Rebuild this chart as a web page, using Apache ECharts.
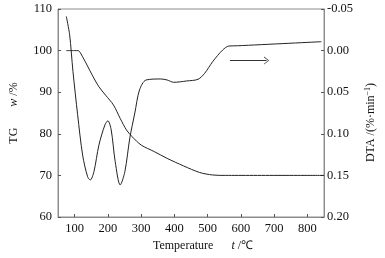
<!DOCTYPE html>
<html><head><meta charset="utf-8">
<script src="https://cdn.jsdelivr.net/npm/echarts@6/dist/echarts.min.js"></script>
<style>html,body{margin:0;padding:0;background:#fff}#c{width:385px;height:258px}</style>
</head><body><div id="c"></div>
<script>
// TG curve (left axis, w / %)
const tgTemp = [75, 100, 110, 124, 153, 173, 193, 217, 237, 256, 273, 300, 340, 378, 427, 476, 515, 554, 850];
const tgMass = [100, 100, 100, 98.5, 94.1, 91.3, 89.3, 86.9, 83.7, 80.9, 79.3, 77.3, 75.7, 74.1, 72.3, 70.7, 70.1, 70, 70];
// DTA curve (right axis, %/min, inverted)
const dtaTemp = [75, 85, 95, 109, 124, 139, 147, 158, 173, 191, 200, 210, 222, 237, 251, 266, 281, 295, 315, 359, 378, 398, 437, 471, 491, 515, 545, 564, 590, 842];
const dtaVal = [-0.041, -0.019, 0.025, 0.077, 0.1255, 0.1516, 0.1555, 0.1456, 0.1135, 0.0894, 0.0843, 0.0954, 0.1335, 0.1615, 0.1456, 0.105, 0.075, 0.0474, 0.0353, 0.0341, 0.0353, 0.0381, 0.0365, 0.0345, 0.0273, 0.0133, -0.0007, -0.0055, -0.0058, -0.0107];
// ticks
const xTicks = [100, 200, 300, 400, 500, 600, 700, 800];
const arrowFrom = [567, 0.012];
const arrowTo = [677, 0.012];

const F = 'Liberation Serif, Times New Roman, serif';
const TS = 12.5;
const chart = echarts.init(document.getElementById('c'));
chart.setOption({
  animation: false,
  textStyle: {fontFamily: F},
  grid: {left: 53, right: 59, top: 9, bottom: 41, show: true, borderColor: '#8c8c8c', borderWidth: 1},
  xAxis: {
    type: 'value', min: 50, max: 850,
    axisLine: {show: true, onZero: false, lineStyle: {color: '#8c8c8c'}},
    axisTick: {show: true, inside: true, length: 3, customValues: xTicks, lineStyle: {color: '#555'}},
    axisLabel: {customValues: xTicks, color: '#111', fontSize: TS, fontFamily: F, margin: 5},
    splitLine: {show: false},
    name: '{a|Temperature}      {b|t} /℃',
    nameLocation: 'middle', nameGap: 23,
    nameTextStyle: {color: '#111', fontSize: 12, fontFamily: F, padding: [0, 0, 0, 24],
      rich: {a: {fontSize: 12, fontFamily: F, color: '#111'}, b: {fontSize: 12, fontStyle: 'italic', fontFamily: F, color: '#111'}}}
  },
  yAxis: [{
    type: 'value', min: 60, max: 110, interval: 10,
    axisLine: {show: true, onZero: false, lineStyle: {color: '#8c8c8c'}},
    axisTick: {show: true, inside: true, length: 3, lineStyle: {color: '#555'}},
    axisLabel: {color: '#111', fontSize: TS, fontFamily: F, margin: 6},
    splitLine: {show: false},
    name: '{a|TG}       {b|w} /%',
    nameLocation: 'middle', nameGap: 38, nameRotate: 90,
    nameTextStyle: {color: '#111', fontSize: 12, fontFamily: F,
      rich: {a: {fontSize: 12, fontFamily: F, color: '#111'}, b: {fontSize: 12, fontStyle: 'italic', fontFamily: F, color: '#111'}}}
  }, {
    type: 'value', min: -0.05, max: 0.20, interval: 0.05, inverse: true, position: 'right',
    axisLine: {show: true, onZero: false, lineStyle: {color: '#8c8c8c'}},
    axisTick: {show: true, inside: true, length: 3, lineStyle: {color: '#555'}},
    axisLabel: {color: '#111', fontSize: TS, fontFamily: F, margin: 3, formatter: v => v.toFixed(2)},
    splitLine: {show: false},
    name: 'DTA /(%·min{s|−1})',
    nameLocation: 'middle', nameGap: 37, nameRotate: 90,
    nameTextStyle: {color: '#111', fontSize: 12, fontFamily: F, padding: [0, 0, 0, -19],
      rich: {s: {fontSize: 8, fontFamily: F, color: '#111', padding: [0, 0, 6, 0]}}}
  }],
  series: [{
    type: 'line', yAxisIndex: 0, showSymbol: false, smooth: 0.3,
    lineStyle: {color: '#222', width: 1},
    data: tgTemp.map((t, i) => [t, tgMass[i]])
  }, {
    type: 'line', yAxisIndex: 1, showSymbol: false, smooth: 0.3,
    lineStyle: {color: '#222', width: 1},
    data: dtaTemp.map((t, i) => [t, dtaVal[i]]),
    markLine: {
      silent: true, animation: false,
      symbol: ['none', 'path://M0,10 L5,0 L10,10 L9,10 L5,2 L1,10 Z'],
      symbolSize: [8, 5],
      label: {show: false},
      lineStyle: {color: '#333', width: 1, type: 'solid'},
      data: [[{coord: arrowFrom}, {coord: arrowTo}]]
    }
  }]
});
</script></body></html>
